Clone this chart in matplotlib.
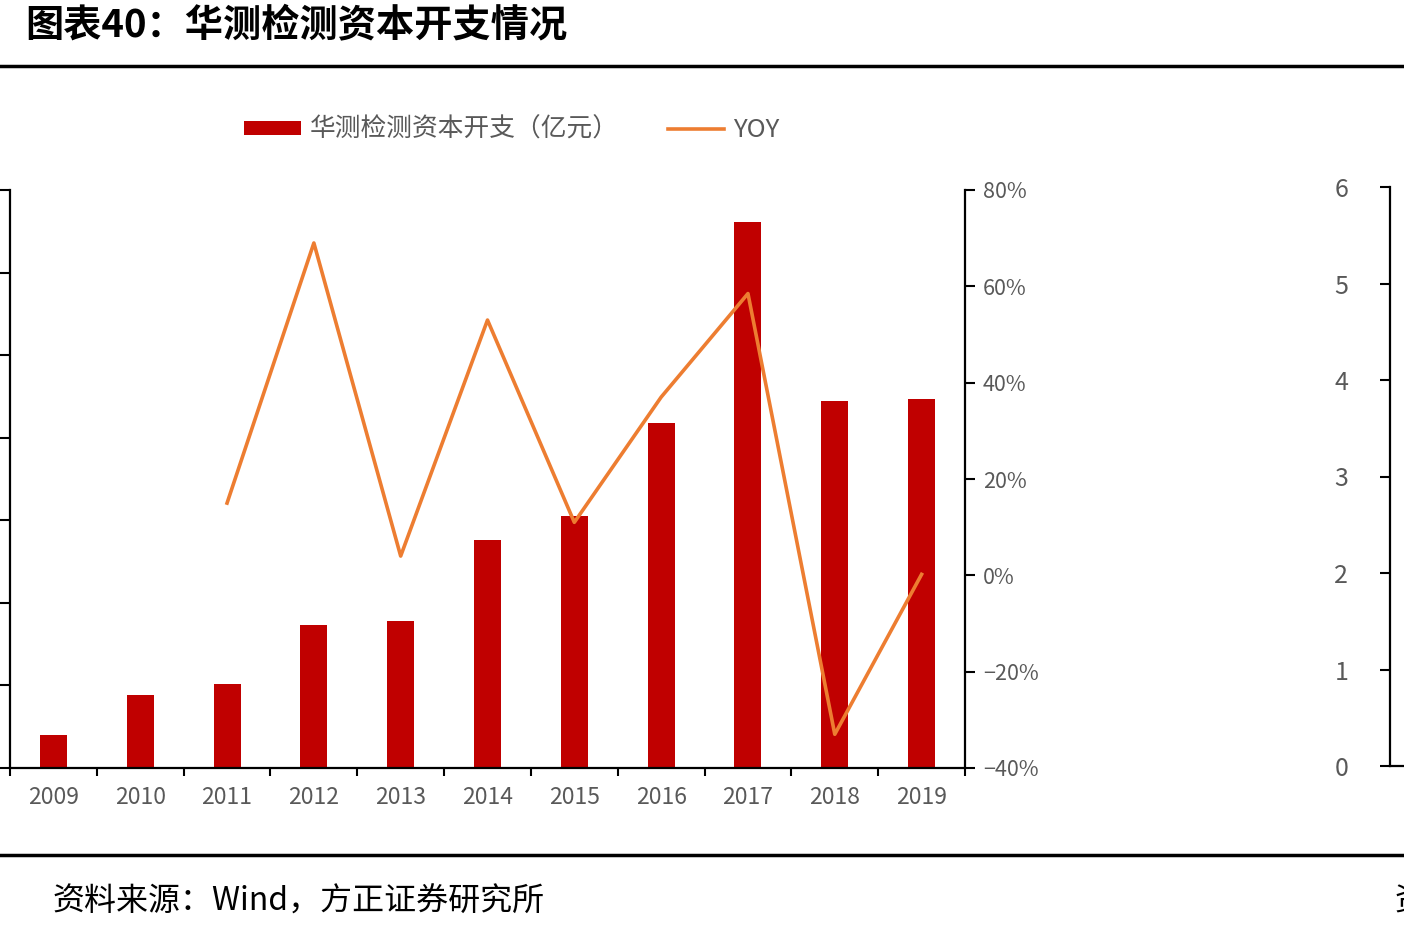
import matplotlib
matplotlib.use('Agg')
import matplotlib.pyplot as plt
import numpy as np
from matplotlib.ticker import FuncFormatter, MultipleLocator

plt.rcParams['font.family'] = ['Noto Sans CJK SC', 'DejaVu Sans']

years = ['2009', '2010', '2011', '2012', '2013', '2014', '2015', '2016', '2017', '2018', '2019']
capex = [0.40, 0.88, 1.02, 1.73, 1.78, 2.76, 3.05, 4.18, 6.61, 4.44, 4.47]
yoy = [np.nan, np.nan, 0.15, 0.69, 0.04, 0.53, 0.11, 0.37, 0.585, -0.33, 0.002]

bar_color = '#C00000'
line_color = '#ED7D31'
gray = '#595959'

W, H = 1404, 934
fig = plt.figure(figsize=(W / 100, H / 100), dpi=100)

# main axes: bars
ax = fig.add_axes([10 / W, (H - 768) / H, 955 / W, 578 / H])
x = np.arange(len(years))
bars = ax.bar(x, capex, width=0.31, color=bar_color, label='华测检测资本开支（亿元）', zorder=2)
ax.set_xlim(-0.5, len(years) - 0.5)
ax.set_ylim(0, 7)
ax.yaxis.set_major_locator(MultipleLocator(1))
ax.tick_params(axis='y', direction='out', length=7, width=1.5, labelleft=False)
ax.set_xticks(x)
ax.set_xticklabels(years, color=gray, fontsize=16.5)
ax.set_xticks(np.arange(-0.5, len(years)), minor=True)
ax.tick_params(axis='x', which='major', length=0, pad=13)
ax.tick_params(axis='x', which='minor', direction='out', length=6, width=1.5)
for s in ['top', 'right']:
    ax.spines[s].set_visible(False)
for s in ['left', 'bottom']:
    ax.spines[s].set_linewidth(1.6)

# YOY line on the middle axis
ax2 = ax.twinx()
line, = ax2.plot(x, yoy, color=line_color, lw=2.6, label='YOY', zorder=3)
ax2.set_ylim(-0.4, 0.8)
ax2.yaxis.set_major_locator(MultipleLocator(0.2))
ax2.yaxis.set_major_formatter(FuncFormatter(lambda v, p: '{:.0f}%'.format(v * 100).replace('-', '−')))
ax2.tick_params(axis='y', direction='out', length=7, width=1.5, labelsize=15.5, labelcolor=gray, pad=6)
for s in ['top', 'left', 'bottom']:
    ax2.spines[s].set_visible(False)
ax2.spines['right'].set_linewidth(1.6)

# far right axis
ax3 = fig.add_axes([1390 / W, (H - 766) / H, 0.1, 579 / H])
ax3.set_ylim(0, 6)
ax3.yaxis.set_major_locator(MultipleLocator(1))
ax3.set_xticks([])
ax3.tick_params(axis='y', direction='out', length=7, width=1.5, labelsize=18, labelcolor=gray, pad=23)
for s in ['top', 'right']:
    ax3.spines[s].set_visible(False)
for s in ['left', 'bottom']:
    ax3.spines[s].set_linewidth(1.6)
ax3.patch.set_visible(False)

# legend
fig.legend([bars, line], ['华测检测资本开支（亿元）', 'YOY'], loc='center', ncol=2,
           bbox_to_anchor=(512 / W, 1 - 130 / H), frameon=False, handlelength=2.2,
           handleheight=0.5, columnspacing=1.9, handletextpad=0.35,
           prop={'size': 18.5}, labelcolor=gray)

# title, rules and source
fig.text(25 / W, 1 - 25 / H, '图表40：华测检测资本开支情况', fontsize=27.5,
         fontweight='bold', va='center', ha='left')
fig.add_artist(plt.Line2D([0, 1], [1 - 66 / H, 1 - 66 / H], color='black', lw=2.5))
fig.add_artist(plt.Line2D([0, 1], [1 - 855 / H, 1 - 855 / H], color='black', lw=2.5))
fig.text(52 / W, 1 - 902 / H, '资料来源：Wind，方正证券研究所', fontsize=23,
         va='center', ha='left')
fig.text(1394 / W, 1 - 902 / H, '资', fontsize=23, va='center', ha='left')

fig.savefig('out.png', dpi=100)
